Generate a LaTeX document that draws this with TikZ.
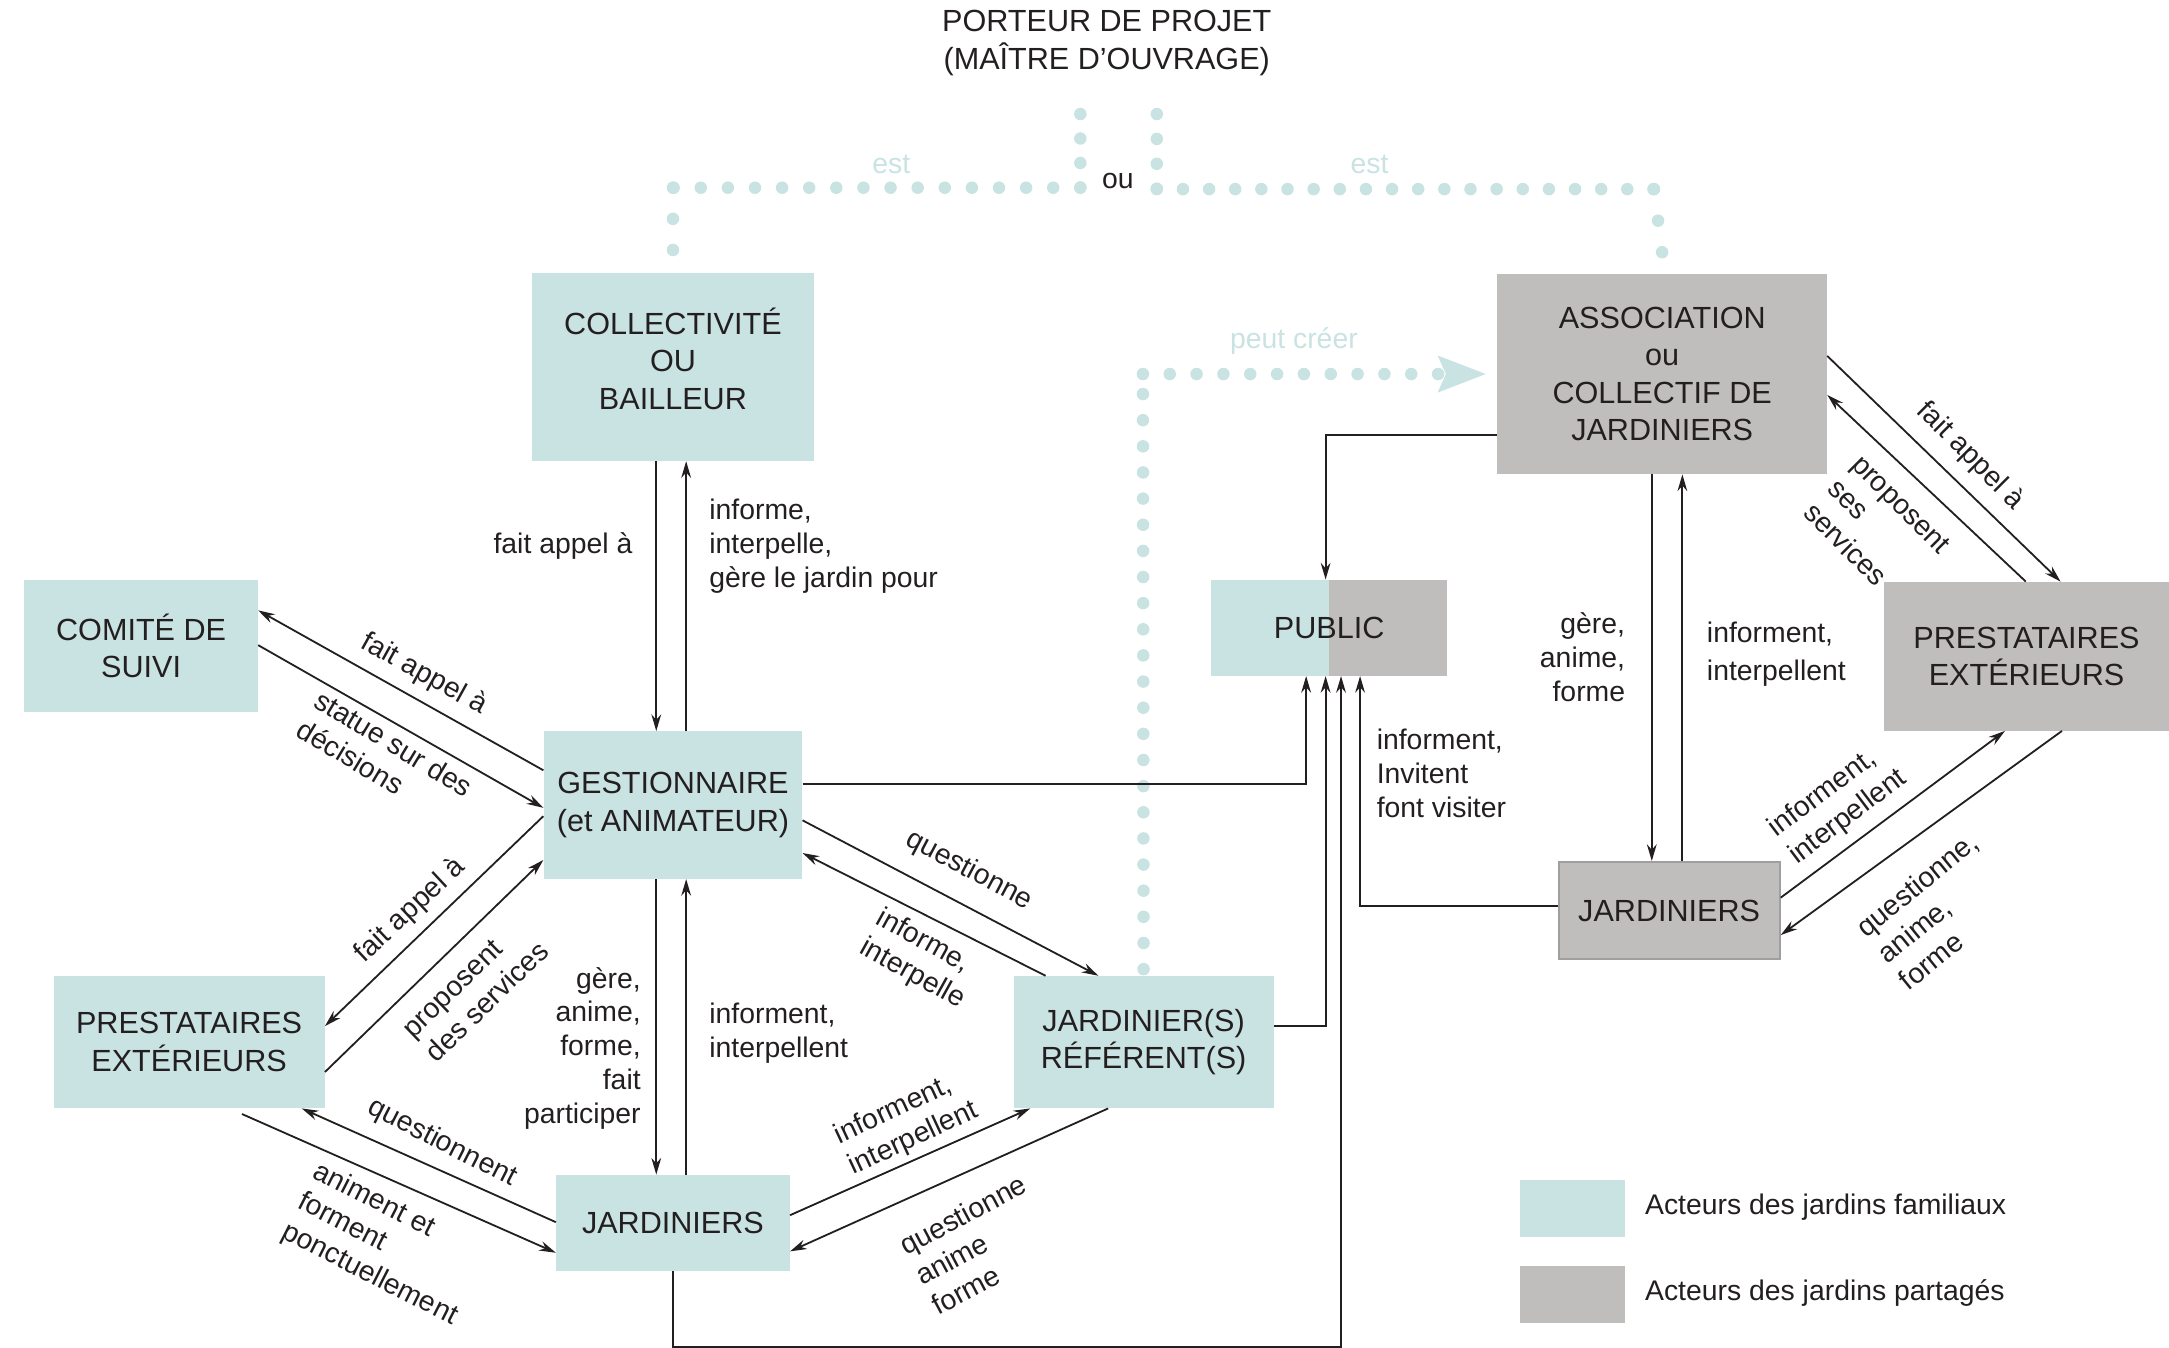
\documentclass[tikz,border=0pt]{standalone}
\usepackage{fontspec}
\setmainfont{Liberation Sans}
\usetikzlibrary{arrows.meta}

\definecolor{familial}{HTML}{C9E2E2}
\definecolor{partage}{HTML}{BFBEBD}
\definecolor{encre}{HTML}{231F20}
\newcommand{\boxfont}{\fontsize{22}{27}\selectfont}
\newcommand{\lblfont}{\fontsize{20.4}{24.4}\selectfont}

\tikzset{
  acteur/.style={inner sep=0, align=center, font=\boxfont, text=encre},
  famil/.style={acteur, fill=familial},
  parta/.style={acteur, fill=partage},
  lien/.style={draw=encre, line width=1.3pt, -{Stealth[length=12pt, width=7pt]}},
  lbl/.style={inner sep=0, font=\lblfont, text=encre},
  pointille/.style={draw=familial, line width=9pt, line cap=round, dash pattern=on 0pt off #1},
}

\begin{document}
\begin{tikzpicture}[x=1pt, y=-1pt]
\useasboundingbox (0,0) rectangle (1560,969.5);

% acteurs
\node[acteur] (porteur) at (796,31) {PORTEUR DE PROJET\\(MAÎTRE D’OUVRAGE)};
\node[famil, text depth=12pt, minimum width=203pt, minimum height=135pt] (coll) at (484,264) {COLLECTIVITÉ\\OU\\BAILLEUR};
\node[famil, minimum width=168pt, minimum height=95pt] (comite) at (101.5,464.5) {COMITÉ DE\\SUIVI};
\node[famil, minimum width=186pt, minimum height=106pt] (gest) at (484,579) {GESTIONNAIRE\\(et ANIMATEUR)};
\node[famil, minimum width=195pt, minimum height=95pt] (prestaG) at (136,749.5) {PRESTATAIRES\\EXTÉRIEURS};
\node[famil, minimum width=168pt, minimum height=69pt] (jardG) at (484,879.5) {JARDINIERS};
\node[famil, minimum width=187pt, minimum height=95pt] (ref) at (822.5,749.5) {JARDINIER(S)\\RÉFÉRENT(S)};
\node[acteur, minimum width=170pt, minimum height=69pt,
  path picture={
    \fill[familial] (path picture bounding box.north west) rectangle (path picture bounding box.south);
    \fill[partage] (path picture bounding box.north) rectangle (path picture bounding box.south east);
  }] (public) at (956,451.5) {PUBLIC};
\node[parta, minimum width=237pt, minimum height=144pt] (assoc) at (1195.5,269) {ASSOCIATION\\ou\\COLLECTIF DE\\JARDINIERS};
\node[parta, minimum width=205pt, minimum height=107pt] (prestaD) at (1457.5,472) {PRESTATAIRES\\EXTÉRIEURS};
\node[parta, draw=gray!75, line width=1.5pt, minimum width=159pt, minimum height=70pt] (jardD) at (1200.5,655) {JARDINIERS};

% porteur de projet
\coordinate (ouG) at (777,82);
\coordinate (ouD) at (832,82);
\draw[pointille=17.6pt] (ouG) -- (777,135);
\draw[pointille=19.5pt] (777,135) -- (484,135);
\draw[pointille=22.4pt] (484,135) -- (coll.north |- 0,180);
\draw[pointille=17.9pt] (ouD) -- (832,136);
\draw[pointille=18.8pt] (832,136) -- (1189.6,136);
\draw[pointille=22.9pt] (1189.6,136) -- (assoc.north |- 0,182);
\node[lbl, text=familial] (estG) at (641,118) {est};
\node[lbl, text=familial] (estD) at (985,118) {est};
\node[lbl] (ou) at (804,130) {ou};

% peut creer
\coordinate (creerfin) at (1069,269);
\draw[pointille=18.8pt] (ref.north |- 0,697) -- (822,269);
\draw[pointille=19.3pt, -{Stealth[length=34pt, width=25pt, inset=5pt]}] (822,269) -- (creerfin);
\node[lbl, text=familial] (creer) at (930.6,245) {peut créer};

% jardins familiaux
\draw[lien] (coll.south -| 472,0) -- (gest.north -| 472,0);
\draw[lien] (gest.north -| 493.5,0) -- (coll.south -| 493.5,0);
\node[lbl, anchor=east] (l1) at (455,393) {fait appel à};
\node[lbl, anchor=west, align=left] (l2) at (510,393) {informe,\\interpelle,\\gère le jardin pour};

\draw[lien] (gest.west |- 0,554) -- (comite.east |- 0,439);
\draw[lien] (comite.east |- 0,464) -- (gest.west |- 0,581);
\node[lbl, rotate=-29] (l3) at (305,485) {fait appel à};
\node[lbl, rotate=-31, align=left] (l4) at (277,545) {statue sur des\\décisions};

\draw[lien] (gest.west |- 0,587) -- (prestaG.east |- 0,738);
\draw[lien] (prestaG.east |- 0,771) -- (gest.west |- 0,618.5);
\node[lbl, rotate=43] (l5) at (295,655) {fait appel à};
\node[lbl, rotate=44, align=left] (l6) at (342,712) {proposent\\des services};

\draw[lien] ([yshift=-4pt]prestaG.south -| 174,0) -- (jardG.west |- 0,901);
\draw[lien] (jardG.west |- 0,879) -- (prestaG.south -| 217,0);
\node[lbl, rotate=-27] (l7) at (318,822) {questionnent};
\node[lbl, rotate=-27, align=left] (l8) at (277,895) {animent et\\forment\\ponctuellement};

\draw[lien] (gest.south -| 472,0) -- (jardG.north -| 472,0);
\draw[lien] (jardG.north -| 493.5,0) -- (gest.south -| 493.5,0);
\node[lbl, anchor=east, align=right] (l9) at (461,754) {gère,\\anime,\\forme,\\fait\\participer};
\node[lbl, anchor=west, align=left] (l10) at (510,743) {informent,\\interpellent};

\draw[lien] (gest.east |- 0,590) -- (ref.north -| 790,0);
\draw[lien] (ref.north -| 752,0) -- (gest.east |- 0,613.5);
\node[lbl, rotate=-28] (l11) at (697,626) {questionne};
\node[lbl, rotate=-29, align=left] (l12) at (662,690) {informe,\\interpelle};

\draw[lien] (jardG.east |- 0,874) -- (ref.south -| 741,0);
\draw[lien] (ref.south -| 797,0) -- (jardG.east |- 0,900);
\node[lbl, rotate=25, align=left] (l13) at (652,808) {informent,\\interpellent};
\node[lbl, rotate=28, align=left] (l14) at (704,895) {questionne\\anime\\forme};

% public
\draw[lien] (gest.east |- 0,564) -| (public.south -| 939.4,0);
\draw[lien] (ref.east |- 0,738) -| (public.south -| 953.4,0);
\draw[lien] (jardG.south) -- (jardG.south |- 0,968.5) -| (public.south -| 964.5,0);
\draw[lien] (jardD.west |- 0,651.6) -| (public.south -| 978.2,0);
\draw[lien] (assoc.west |- 0,313) -| (public.north -| 953.4,0);
\node[lbl, anchor=west, align=left] (l15) at (990,556) {informent,\\Invitent\\font visiter};

% jardins partages
\draw[lien] (assoc.south -| 1188,0) -- (jardD.north -| 1188,0);
\draw[lien] (jardD.north -| 1210,0) -- (assoc.south -| 1210,0);
\node[lbl, anchor=east, align=right] (l16) at (1169,472.5) {gère,\\anime,\\forme};
\node[lbl, anchor=west, align=left] (l17) at (1227.5,470.5) {informent,\\[3pt]interpellent};

\draw[lien] (assoc.east |- 0,256) -- (prestaD.north -| 1482,0);
\draw[lien] (prestaD.north -| 1457,0) -- (assoc.east |- 0,284);
\node[lbl, rotate=-45] (l18) at (1417,328) {fait appel à};
\node[lbl, rotate=-45, align=left] (l19) at (1350,380) {proposent\\ses\\services};

\draw[lien] (jardD.east |- 0,645.6) -- (prestaD.south -| 1442,0);
\draw[lien] (prestaD.south -| 1483,0) -- (jardD.east |- 0,672.5);
\node[lbl, rotate=37, align=left] (l20) at (1322,578) {informent,\\interpellent};
\node[lbl, rotate=39, align=left] (l21) at (1394,655) {questionne,\\anime,\\forme};

% legende
\node[famil, minimum width=75pt, minimum height=41pt] (legfam) at (1131,869) {};
\node[lbl, anchor=west] (legfamtxt) at (1183,868) {Acteurs des jardins familiaux};
\node[parta, minimum width=75pt, minimum height=41pt] (legpar) at (1131,931) {};
\node[lbl, anchor=west] (legpartxt) at (1183,930) {Acteurs des jardins partagés};
\end{tikzpicture}
\end{document}
